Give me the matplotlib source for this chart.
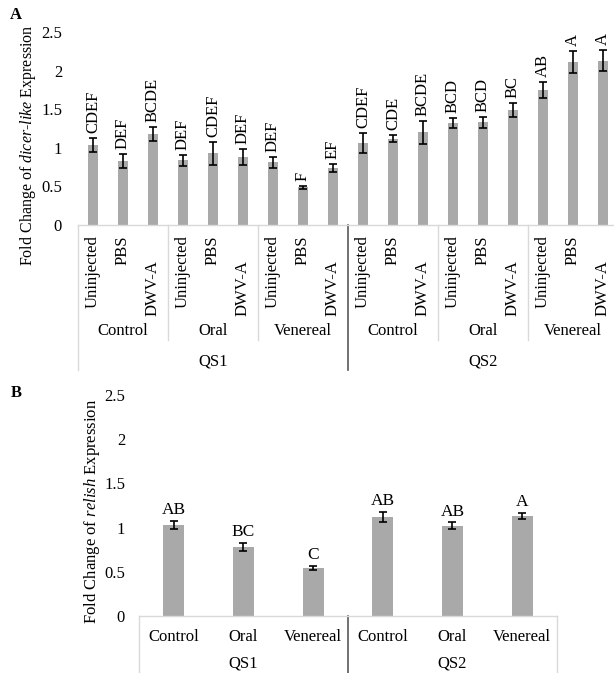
import matplotlib
matplotlib.use('Agg')
import matplotlib.pyplot as plt
import numpy as np

plt.rcParams['font.family'] = ['Liberation Serif', 'DejaVu Serif']
plt.rcParams['mathtext.fontset'] = 'custom'
plt.rcParams['mathtext.rm'] = 'Liberation Serif'
plt.rcParams['mathtext.it'] = 'Liberation Serif:italic'

# panel A data: dicer-like
strains = ['QS1', 'QS2']
routes = ['Control', 'Oral', 'Venereal']
treatments = ['Uninjected', 'PBS', 'DWV-A']
a_means = [1.04, 0.83, 1.18, 0.84, 0.93, 0.88, 0.81, 0.49, 0.74,
           1.06, 1.12, 1.20, 1.32, 1.33, 1.49, 1.75, 2.11, 2.13]
a_errs = [0.09, 0.09, 0.09, 0.07, 0.15, 0.10, 0.07, 0.02, 0.05,
          0.13, 0.05, 0.15, 0.07, 0.07, 0.09, 0.10, 0.14, 0.14]
a_letters = ['CDEF', 'DEF', 'BCDE', 'DEF', 'CDEF', 'DEF', 'DEF', 'F', 'EF',
             'CDEF', 'CDE', 'BCDE', 'BCD', 'BCD', 'BC', 'AB', 'A', 'A']

# panel B data: relish
b_means = [1.03, 0.78, 0.54, 1.12, 1.02, 1.13]
b_errs = [0.05, 0.05, 0.025, 0.06, 0.04, 0.035]
b_letters = ['AB', 'BC', 'C', 'AB', 'AB', 'A']

y_ticks = [0, 0.5, 1, 1.5, 2, 2.5]
y_ticklabels = ['0', '0.5', '1', '1.5', '2', '2.5']

bar_color = '#a9a9a9'
light = '#d9d9d9'
dark = '#595959'
W, H = 614, 673

fig = plt.figure(figsize=(W / 100, H / 100), dpi=100)


def px_axes(left, right, top, bottom):
    return fig.add_axes([left / W, 1 - bottom / H, (right - left) / W, (bottom - top) / H])


def style_axis(ax, pad):
    ax.set_ylim(0, 2.5)
    ax.set_yticks(y_ticks)
    ax.set_yticklabels(y_ticklabels, fontsize=12)
    ax.tick_params(axis='y', length=0, pad=pad)
    ax.tick_params(axis='x', length=0, labelbottom=False)
    for s in ['top', 'right', 'left']:
        ax.spines[s].set_visible(False)
    ax.spines['bottom'].set_color(light)
    ax.spines['bottom'].set_linewidth(1)


# ---------- panel A ----------
axA = px_axes(78, 618, 32, 225)
xa = np.arange(len(a_means))
axA.bar(xa, a_means, width=0.33, color=bar_color, zorder=2)
axA.errorbar(xa, a_means, yerr=a_errs, fmt='none', ecolor='black',
             elinewidth=1.2, capsize=3.2, capthick=1.2, zorder=3)
for x, m, e, lab in zip(xa, a_means, a_errs, a_letters):
    axA.annotate(lab, (x, m + e), xytext=(0, 3.5), textcoords='offset points',
                 rotation=90, ha='center', va='bottom', fontsize=12)
axA.set_xlim(-0.5, len(a_means) - 0.5)
style_axis(axA, 11.5)

trA = axA.get_xaxis_transform()
i = 0
for s in strains:
    for r in routes:
        for t in treatments:
            off = -0.18 if t == 'DWV-A' else -0.052
            axA.text(i, off, t, transform=trA, rotation=90, ha='center',
                     va='top', fontsize=12)
            i += 1
for k, r in enumerate(routes * len(strains)):
    axA.text(3 * k + 1, -0.549, r, transform=trA, ha='center', va='center', fontsize=12)
for k, s in enumerate(strains):
    axA.text(9 * k + 4, -0.705, s, transform=trA, ha='center', va='center', fontsize=12)
for k in range(len(routes) * len(strains) + 1):
    xb = 3 * k - 0.5
    if k % 3 == 0:
        col = dark if 0 < k < 6 else light
        axA.plot([xb, xb], [0, -0.751], color=col, lw=1.2 if col == dark else 1,
                 transform=trA, clip_on=False)
    else:
        axA.plot([xb, xb], [0, -0.596], color=light, lw=1,
                 transform=trA, clip_on=False)

fig.text(28 / W, 1 - 145 / H,
         r'Fold Change of $\mathit{dicer}$-$\mathit{like}$ Expression',
         rotation=90, ha='center', va='center', fontsize=11.5)
fig.text(16 / W, 1 - 15 / H, 'A', fontweight='bold', ha='center', va='center', fontsize=12)

# ---------- panel B ----------
axB = px_axes(139, 557, 395, 616)
xb_pos = np.arange(len(b_means))
axB.bar(xb_pos, b_means, width=0.3, color=bar_color, zorder=2)
axB.errorbar(xb_pos, b_means, yerr=b_errs, fmt='none', ecolor='black',
             elinewidth=1.2, capsize=3.2, capthick=1.2, zorder=3)
for x, m, e, lab in zip(xb_pos, b_means, b_errs, b_letters):
    axB.annotate(lab, (x, m + e), xytext=(0, 2), textcoords='offset points',
                 ha='center', va='bottom', fontsize=12.5)
axB.set_xlim(-0.5, len(b_means) - 0.5)
style_axis(axB, 10)

trB = axB.get_xaxis_transform()
for k, r in enumerate(routes * len(strains)):
    axB.text(k, -0.095, r, transform=trB, ha='center', va='center', fontsize=12)
for k, s in enumerate(strains):
    axB.text(3 * k + 1, -0.215, s, transform=trB, ha='center', va='center', fontsize=12)
for k in range(len(strains) + 1):
    xb = 3 * k - 0.5
    col = dark if k == 1 else light
    axB.plot([xb, xb], [0, -0.3], color=col, lw=1.2 if col == dark else 1,
             transform=trB, clip_on=False)

fig.text(92 / W, 1 - 511 / H,
         r'Fold Change of $\mathit{relish}$ Expression',
         rotation=90, ha='center', va='center', fontsize=12)
fig.text(16 / W, 1 - 393 / H, 'B', fontweight='bold', ha='center', va='center', fontsize=12)

fig.savefig('out.png', dpi=100)
